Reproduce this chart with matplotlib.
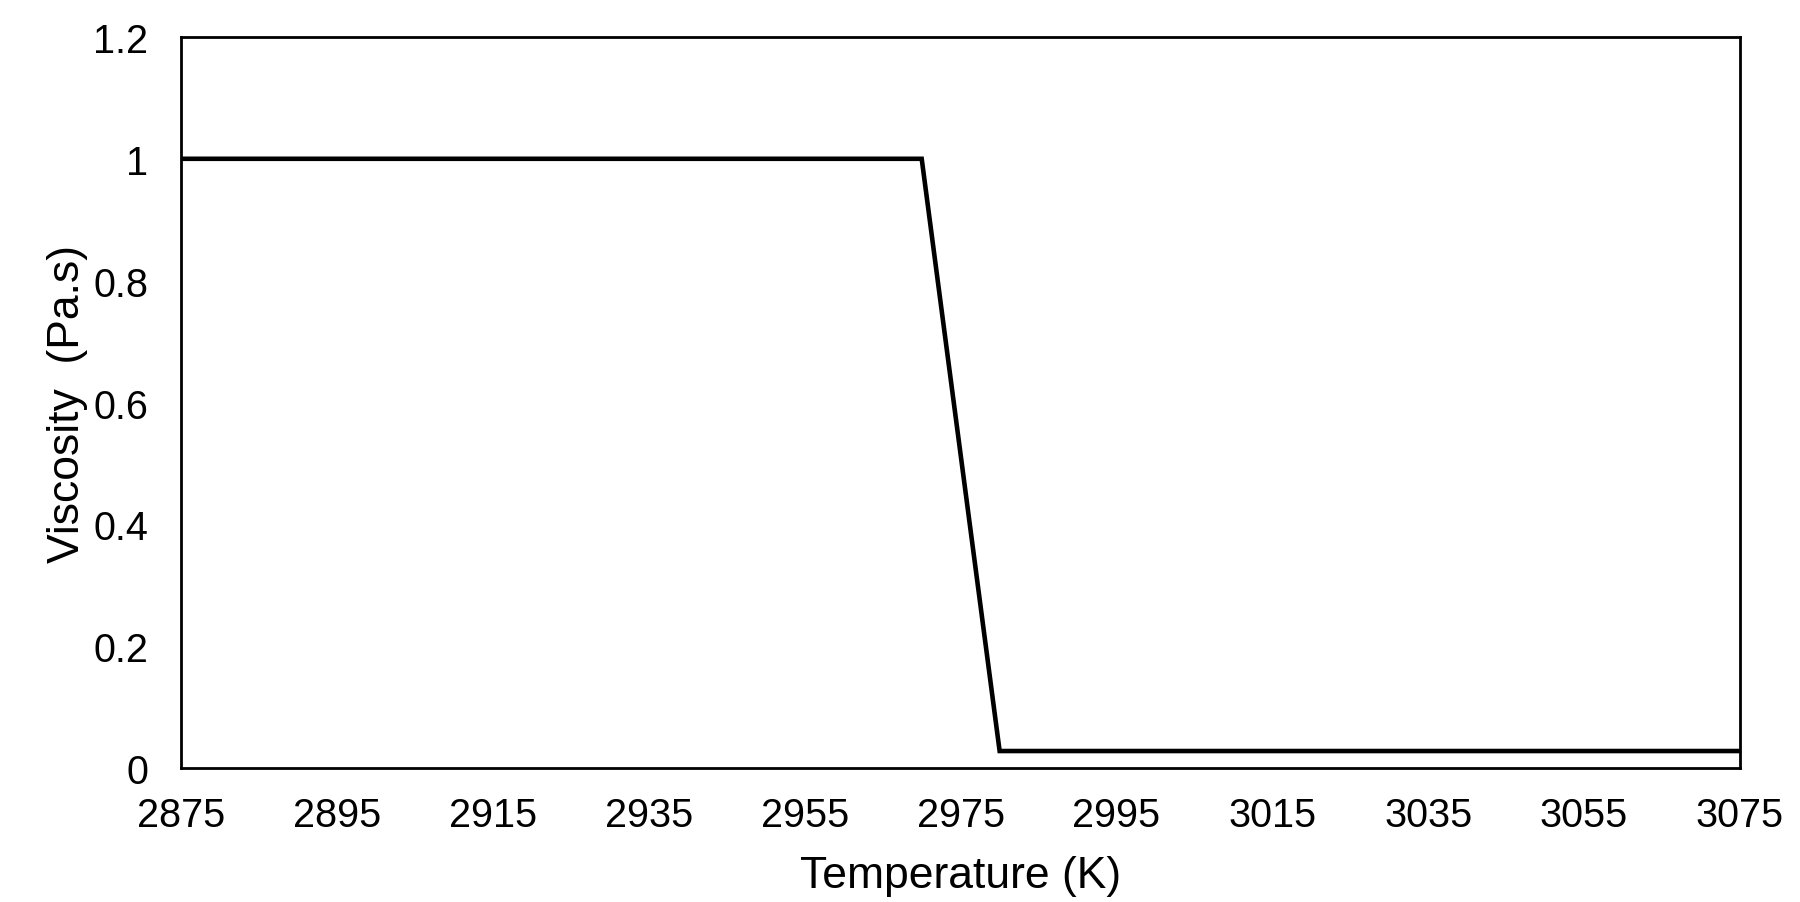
import matplotlib
matplotlib.use("Agg")
import matplotlib.pyplot as plt

temperature = [2875, 2970, 2980, 3075]
viscosity = [1.0, 1.0, 0.028, 0.028]
x_ticks = [2875, 2895, 2915, 2935, 2955, 2975, 2995, 3015, 3035, 3055, 3075]
y_ticks = [0, 0.2, 0.4, 0.6, 0.8, 1.0, 1.2]
y_tick_labels = ["0", "0.2", "0.4", "0.6", "0.8", "1", "1.2"]

plt.rcParams['font.family'] = ['Liberation Sans', 'DejaVu Sans']

fig = plt.figure(figsize=(18, 9.03), dpi=100)
ax = fig.add_axes([0.1008, 0.1483, 0.8658, 0.8097])
ax.plot(temperature, viscosity, color='black', linewidth=3.3, solid_joinstyle='miter')
ax.set_xlim(2875, 3075)
ax.set_ylim(0, 1.2)
ax.set_xticks(x_ticks)
ax.set_xticklabels([str(t) for t in x_ticks])
ax.set_yticks(y_ticks)
ax.set_yticklabels(y_tick_labels)
ax.tick_params(axis='both', length=0, labelsize=28.5)
ax.tick_params(axis='x', pad=20)
ax.tick_params(axis='y', pad=24)
for s in ax.spines.values():
    s.set_linewidth(2.0)
    s.set_color('black')
ax.set_xlabel('Temperature (K)', fontsize=32, labelpad=15)
ax.set_ylabel('Viscosity  (Pa.s)', fontsize=32, labelpad=4)
fig.savefig('out.png', dpi=100)
